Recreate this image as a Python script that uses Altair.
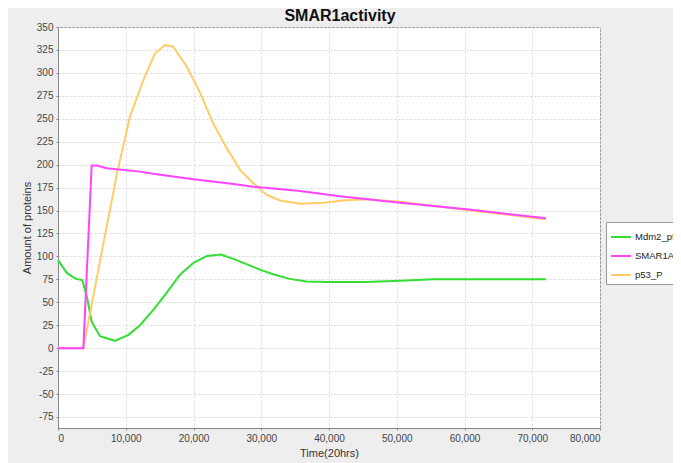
import altair as alt
import pandas as pd

series_names = ["Mdm2_p53", "SMAR1A", "p53_P"]
series_colors = ["#33dd33", "#ff44ff", "#ffcc66"]

mdm2_time = [0, 1300, 2500, 3600, 4300, 4970, 6200, 8400, 10400, 12100, 14100, 16000,
             18000, 20000, 22000, 24000, 26000, 28000, 30000, 32000, 34200, 36700,
             39700, 45500, 50500, 55400, 72000]
mdm2_value = [96, 82, 76, 74, 55, 29, 13, 8, 14.5, 25, 42, 60,
              80, 93, 100.5, 102, 97, 91, 85, 80, 75.5, 72.6,
              72, 72, 73.5, 75, 75]

smar_time = [0, 3740, 4970, 5700, 7200, 12100, 14000, 20000, 25900, 28800, 35700,
             41600, 50500, 60300, 72000]
smar_value = [0, 0, 199, 199, 196, 192.4, 190, 184, 179, 176, 171.2,
              165.5, 158.6, 151.4, 141.6]

p53_time = [0, 3740, 6700, 8700, 10600, 12600, 14300, 15800, 17000, 19000, 21000,
            22900, 24900, 26900, 28800, 30800, 32800, 35700, 39200, 42100, 45600,
            50500, 60300, 72000]
p53_value = [0, 0, 114, 190, 252, 292, 321, 330.4, 328.5, 307, 278,
             245, 218, 194, 180, 167, 161, 157.5, 158.6, 160.8, 162.3,
             159.7, 150.6, 140.5]

x_ticks = [0, 10000, 20000, 30000, 40000, 50000, 60000, 70000, 80000]
y_ticks = [-75, -50, -25, 0, 25, 50, 75, 100, 125, 150, 175, 200, 225, 250, 275, 300, 325, 350]

FONT = "Liberation Sans"


def frame(name, t, v):
    return pd.DataFrame({"time": t, "amount": v, "series": name})


color = alt.Color(
    "series:N",
    scale=alt.Scale(domain=series_names, range=series_colors),
    legend=alt.Legend(
        orient="none", legendX=548, legendY=195, title=None,
        symbolType="stroke", symbolSize=400, symbolStrokeWidth=2,
        labelFontSize=9.5, labelFont=FONT, labelColor="#222", labelOffset=3,
        strokeColor="#999", fillColor="white", padding=4, rowPadding=3,
    ),
)
x = alt.X(
    "time:Q",
    scale=alt.Scale(domain=[0, 80000], nice=False),
    axis=alt.Axis(values=x_ticks, format=",d", title="Time(20hrs)"),
)
y = alt.Y(
    "amount:Q",
    scale=alt.Scale(domain=[-87, 350], nice=False, zero=False),
    axis=alt.Axis(values=y_ticks, title="Amount of proteins",
                  labelExpr="replace(datum.label, '\u2212', '-')"),
)

layers = []
for name, t, v in [(series_names[0], mdm2_time, mdm2_value),
                   (series_names[2], p53_time, p53_value),
                   (series_names[1], smar_time, smar_value)]:
    layers.append(
        alt.Chart(frame(name, t, v)).mark_line(strokeWidth=2).encode(x=x, y=y, color=color)
    )

chart = (
    alt.layer(*layers)
    .properties(
        width=542, height=401,
        padding={"left": 50, "top": 19, "right": 73, "bottom": 35},
        autosize=alt.AutoSizeParams(type="none"),
        title=alt.Title("SMAR1activity", font=FONT, fontSize=16, fontWeight="bold",
                        color="#111", anchor="middle", dx=11, offset=-2),
        background="#eeeeee",
    )
    .configure_view(stroke="#888", fill="white")
    .configure_axis(
        labelFont=FONT, labelFontSize=10, labelColor="#444",
        titleFont=FONT, titleFontSize=11, titleFontWeight="normal", titleColor="#333",
        domainColor="#888", tickColor="#888", tickSize=2, labelPadding=3,
        gridColor="#d8d8d8", gridDash=[2, 2], titlePadding=4,
    )
)

chart.save("out.html", embed_options={"renderer": "svg", "actions": False})
